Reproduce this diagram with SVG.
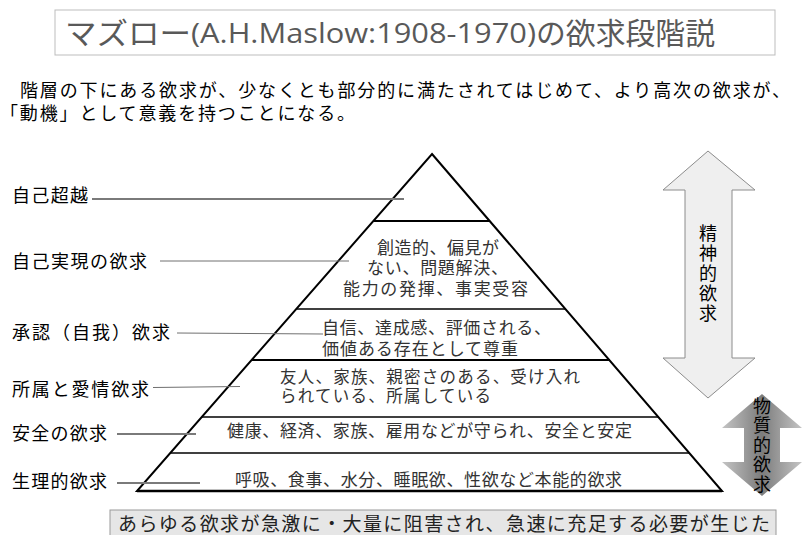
<svg xmlns="http://www.w3.org/2000/svg" width="807" height="535" viewBox="0 0 807 535">
<style>
  text { font-family: "Noto Sans CJK JP", "Noto Sans", sans-serif; }
  .title { font-size: 30px; fill: #595959; }
  .titleLat { font-family: "Open Sans", "Noto Sans CJK JP", sans-serif; font-size: 27px; fill: #595959; }
  .intro { font-family: "Liberation Sans", "Noto Sans CJK JP", sans-serif; font-size: 18px; fill: #000; }
  .lbl { font-size: 18px; fill: #000; }
  .inner { font-family: "Liberation Serif", "Noto Sans CJK JP", serif; font-size: 17px; fill: #333; }
  .vert { font-size: 18px; fill: #000; writing-mode: vertical-rl; letter-spacing: 2px; }
  .note { font-size: 19px; fill: #222; }
  .lead { stroke: #707070; stroke-width: 1; fill: none; }
  .leadT { stroke: #7a7a7a; stroke-width: 2; fill: none; }
  .div { stroke: #000; fill: none; }
</style>
<defs>
  <linearGradient id="gMat" x1="0" y1="0" x2="1" y2="0">
    <stop offset="0" stop-color="#c4c4c4"/>
    <stop offset="0.5" stop-color="#7c7c7c"/>
    <stop offset="1" stop-color="#c4c4c4"/>
  </linearGradient>
</defs>
<rect width="807" height="535" fill="#fff"/>

<g id="title">
  <rect x="55" y="10" width="720" height="45" fill="#fff" stroke="#bdbdbd" stroke-width="1"/>
  <text class="title" x="65" y="44" textLength="126" lengthAdjust="spacingAndGlyphs">マズロー</text>
  <text class="titleLat" x="191" y="43" textLength="345" lengthAdjust="spacingAndGlyphs">(A.H.Maslow:1908-1970)</text>
  <text class="title" x="536" y="44" textLength="179" lengthAdjust="spacingAndGlyphs">の欲求段階説</text>
</g>

<g id="intro">
  <text class="intro"><tspan x="20" y="97" textLength="770" lengthAdjust="spacing">階層の下にある欲求が、少なくとも部分的に満たされてはじめて、より高次の欲求が、</tspan><tspan x="0" y="120" textLength="355" lengthAdjust="spacing">「動機」として意義を持つことになる。</tspan></text>
</g>

<g id="pyramid">
  <polygon points="432,154 722,491 137,491" fill="#fff" stroke="#000" stroke-width="2" stroke-linejoin="miter"/>
  <line class="div" x1="374" y1="221" x2="489" y2="221" stroke-width="2"/>
  <line class="div" x1="297" y1="309" x2="566" y2="309" stroke-width="1.6"/>
  <line class="div" x1="252" y1="360" x2="610" y2="360" stroke-width="2.2"/>
  <line class="div" x1="202" y1="417" x2="659" y2="417" stroke-width="1.5"/>
  <line class="div" x1="170" y1="453" x2="689" y2="453" stroke-width="1.5"/>
  <line class="div" x1="137" y1="491" x2="722" y2="491" stroke-width="2.4"/>
</g>

<g id="level-self-actualization">
  <text class="inner"><tspan x="377" y="254" textLength="122" lengthAdjust="spacing">創造的、偏見が</tspan><tspan x="367" y="274" textLength="141" lengthAdjust="spacing">ない、問題解決、</tspan><tspan x="343" y="295" textLength="185" lengthAdjust="spacing">能力の発揮、事実受容</tspan></text>
</g>
<g id="level-esteem">
  <text class="inner"><tspan x="322" y="334" textLength="229" lengthAdjust="spacing">自信、達成感、評価される、</tspan><tspan x="322" y="355" textLength="196" lengthAdjust="spacing">価値ある存在として尊重</tspan></text>
</g>
<g id="level-belonging">
  <text class="inner" style="font-size:16.5px"><tspan x="280" y="383" textLength="300" lengthAdjust="spacing">友人、家族、親密さのある、受け入れ</tspan><tspan x="280" y="401.5" textLength="211" lengthAdjust="spacing">られている、所属している</tspan></text>
</g>
<g id="level-safety">
  <text class="inner" x="227" y="437" textLength="405" lengthAdjust="spacing">健康、経済、家族、雇用などが守られ、安全と安定</text>
</g>
<g id="level-physiological">
  <text class="inner" x="235" y="486" textLength="387" lengthAdjust="spacing">呼吸、食事、水分、睡眠欲、性欲など本能的欲求</text>
</g>

<g id="label-transcendence"><text class="lbl" x="12" y="202" textLength="76" lengthAdjust="spacing">自己超越</text></g>
<g id="label-actualization"><text class="lbl" x="12" y="268" textLength="135" lengthAdjust="spacing">自己実現の欲求</text></g>
<g id="label-esteem"><text class="lbl" x="12" y="339" textLength="158" lengthAdjust="spacing">承認（自我）欲求</text></g>
<g id="label-belonging"><text class="lbl" x="12" y="396" textLength="137" lengthAdjust="spacing">所属と愛情欲求</text></g>
<g id="label-safety"><text class="lbl" x="12" y="440" textLength="95" lengthAdjust="spacing">安全の欲求</text></g>
<g id="label-physiological"><text class="lbl" x="12" y="488" textLength="95" lengthAdjust="spacing">生理的欲求</text></g>

<g id="connectors">
  <line class="leadT" x1="92" y1="199" x2="404" y2="199"/>
  <line class="lead" x1="160" y1="261" x2="349" y2="261"/>
  <line class="lead" x1="177" y1="333" x2="323" y2="334"/>
  <line class="lead" x1="153" y1="387.5" x2="240" y2="386.5"/>
  <line class="leadT" x1="117" y1="434" x2="196" y2="434"/>
  <line class="leadT" x1="117" y1="483" x2="200" y2="483"/>
</g>

<g id="arrow-spiritual">
  <polygon points="708,151 755,190 732,190 732,358 755,358 708,398 663,358 685,358 685,190 663,190" fill="#efefef" stroke="#8c8c8c" stroke-width="1"/>
  <text class="vert" x="708" y="224">精神的欲求</text>
</g>

<g id="arrow-material">
  <polygon points="762,394 802,428 780,428 780,462 802,462 762,496 722,462 744,462 744,428 722,428" fill="url(#gMat)" stroke="none"/>
  <text class="vert" x="762" y="397" style="letter-spacing:1.5px">物質的欲求</text>
</g>

<g id="note">
  <rect x="110" y="510" width="666" height="30" fill="#e6e6e6" stroke="#9a9a9a" stroke-width="1"/>
  <text class="note" x="118" y="531" textLength="652" lengthAdjust="spacing">あらゆる欲求が急激に・大量に阻害され、急速に充足する必要が生じた</text>
</g>
</svg>
